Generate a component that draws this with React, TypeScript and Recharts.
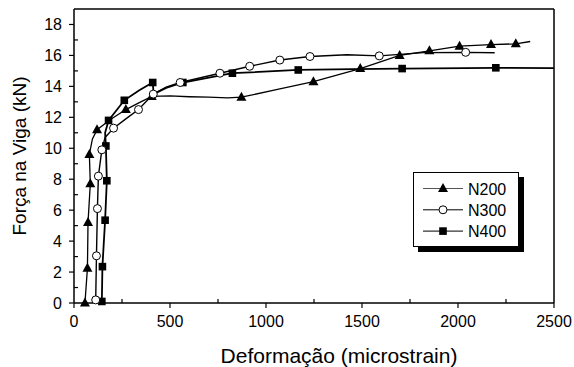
import React from 'react';
import { ComposedChart, Line, Scatter, XAxis, YAxis } from 'recharts';

const FONT = '"Liberation Sans", Arial, Helvetica, sans-serif';

// axis ticks (minor + major)
const xTicks = [0, 250, 500, 750, 1000, 1250, 1500, 1750, 2000, 2250, 2500];
const xMajor = [0, 500, 1000, 1500, 2000, 2500];
const yTicks = [0, 1, 2, 3, 4, 5, 6, 7, 8, 9, 10, 11, 12, 13, 14, 15, 16, 17, 18];
const yMajor = [0, 2, 4, 6, 8, 10, 12, 14, 16, 18];

const seriesNames = ['N200', 'N300', 'N400'];

// N200 – curve path and marker points (x = microstrain, y = kN)
const n200Path: [number, number][] = [
  [57, 0], [70, 2.25], [73, 5.2], [85, 7.7], [80, 9.6], [96, 10.6], [120, 11.2],
  [192, 11.87], [270, 12.5], [340, 12.95], [405, 13.35], [500, 13.38], [600, 13.33],
  [700, 13.3], [800, 13.25], [872, 13.3], [1060, 13.8], [1247, 14.3], [1491, 15.15],
  [1696, 16.0], [1851, 16.3], [2008, 16.6], [2172, 16.7], [2301, 16.75], [2376, 16.9],
];
const n200Marks: [number, number][] = [
  [57, 0], [70, 2.25], [73, 5.2], [85, 7.7], [80, 9.6], [120, 11.2], [270, 12.5],
  [405, 13.35], [872, 13.3], [1247, 14.3], [1491, 15.15], [1696, 16.0], [1851, 16.3],
  [2008, 16.6], [2172, 16.7], [2301, 16.75],
];

// N300
const n300Path: [number, number][] = [
  [113, 0.2], [117, 3.05], [122, 6.1], [127, 8.2], [145, 9.9], [162, 10.7], [206, 11.3],
  [270, 11.9], [336, 12.5], [413, 13.5], [480, 13.95], [553, 14.25], [760, 14.85],
  [915, 15.3], [1072, 15.7], [1229, 15.93], [1421, 16.04], [1590, 15.97], [1820, 16.18],
  [2040, 16.2], [2191, 16.17],
];
const n300Marks: [number, number][] = [
  [113, 0.2], [117, 3.05], [122, 6.1], [127, 8.2], [145, 9.9], [206, 11.3], [336, 12.5],
  [413, 13.5], [553, 14.25], [760, 14.85], [915, 15.3], [1072, 15.7], [1229, 15.93],
  [1590, 15.97], [2040, 16.2],
];

// N400
const n400Path: [number, number][] = [
  [145, 0.1], [148, 2.35], [162, 5.35], [171, 7.9], [166, 10.15], [162, 11.0], [180, 11.8],
  [262, 13.1], [340, 13.75], [410, 14.25], [415, 13.5], [480, 13.9], [567, 14.25],
  [825, 14.85], [1168, 15.06], [1450, 15.12], [1709, 15.15], [2197, 15.2], [2500, 15.18],
];
const n400Marks: [number, number][] = [
  [145, 0.1], [148, 2.35], [162, 5.35], [171, 7.9], [166, 10.15], [180, 11.8], [262, 13.1],
  [410, 14.25], [567, 14.25], [825, 14.85], [1168, 15.06], [1709, 15.15], [2197, 15.2],
];

const toPts = (arr: [number, number][]) => arr.map(([x, y]) => ({ x, y }));

const Triangle = (p: any) => {
  const { cx, cy } = p;
  if (cx == null || cy == null) return null;
  return <polygon points={`${cx},${cy - 5.5} ${cx - 5},${cy + 3.5} ${cx + 5},${cy + 3.5}`} fill="#000" />;
};
const Circle = (p: any) => {
  const { cx, cy } = p;
  if (cx == null || cy == null) return null;
  return <circle cx={cx} cy={cy} r={4} fill="#fff" stroke="#000" strokeWidth={1} />;
};
const Square = (p: any) => {
  const { cx, cy } = p;
  if (cx == null || cy == null) return null;
  return <rect x={cx - 3.8} y={cy - 3.8} width={7.6} height={7.6} fill="#000" />;
};

const BottomTick = (p: any) => {
  const { x, y, payload } = p;
  const v = payload.value;
  const major = xMajor.includes(v);
  return (
    <g>
      <line x1={x} x2={x} y1={y} y2={major ? y + 5 : y - 4} stroke="#000" strokeWidth={1.2} />
      {major && (
        <text x={x} y={y + 24} textAnchor="middle" fontSize={16} fontFamily={FONT} fill="#000">
          {v}
        </text>
      )}
    </g>
  );
};
const LeftTick = (p: any) => {
  const { x, y, payload } = p;
  const v = payload.value;
  const major = yMajor.includes(v);
  return (
    <g>
      <line x1={x} x2={major ? x - 5 : x + 4} y1={y} y2={y} stroke="#000" strokeWidth={1.2} />
      {major && (
        <text x={x - 12} y={y + 5.5} textAnchor="end" fontSize={16} fontFamily={FONT} fill="#000">
          {v}
        </text>
      )}
    </g>
  );
};
const TopTick = (p: any) => {
  const { x, y } = p;
  return <line x1={x} x2={x} y1={y} y2={y + 5} stroke="#000" strokeWidth={1.2} />;
};
const RightTick = (p: any) => {
  const { x, y } = p;
  return <line x1={x} x2={x - 5} y1={y} y2={y} stroke="#000" strokeWidth={1.2} />;
};

const XTitle = (p: any) => {
  const vb = p.viewBox || {};
  return (
    <text x={vb.x + vb.width / 2 + 25} y={vb.y + 60} textAnchor="middle" fontSize={21} fontFamily={FONT} fill="#000">
      Deformação (microstrain)
    </text>
  );
};
const YTitle = (p: any) => {
  const vb = p.viewBox || {};
  const cx = vb.x + 19;
  const cy = vb.y + vb.height / 2;
  return (
    <text x={cx} y={cy} transform={`rotate(-90, ${cx}, ${cy})`} textAnchor="middle" dominantBaseline="central" fontSize={19} fontFamily={FONT} fill="#000">
      Força na Viga (kN)
    </text>
  );
};

const LegendBox = () => {
  const rows = [Triangle, Circle, Square];
  return (
    <svg width={114} height={82} style={{ position: 'absolute', left: 413, top: 172 }}>
      <rect x={5} y={5} width={106} height={75} fill="#000" />
      <rect x={0.5} y={0.5} width={105} height={74} fill="#fff" stroke="#000" strokeWidth={1} />
      {rows.map((Shape, i) => {
        const cy = 16.5 + i * 21.3;
        return (
          <g key={i}>
            <line x1={10} x2={50} y1={cy} y2={cy} stroke={i === 0 ? '#555' : '#000'} strokeWidth={1} />
            <Shape cx={30} cy={cy} />
            <text x={55} y={cy + 6} fontSize={16} fontFamily={FONT} fill="#000">
              {seriesNames[i]}
            </text>
          </g>
        );
      })}
    </svg>
  );
};

export default function App() {
  const axisLine = { stroke: '#000', strokeWidth: 1.5 };
  return (
    <div style={{ position: 'absolute', left: 0, top: 0, width: 574, height: 367, background: '#fff' }}>
      <ComposedChart width={574} height={367} margin={{ top: 8, right: 19, bottom: 0, left: 0 }}>
        <XAxis
          xAxisId={0}
          dataKey="x"
          type="number"
          domain={[0, 2500]}
          ticks={xTicks}
          interval={0}
          height={64}
          tickSize={0}
          tickMargin={0}
          tickLine={false}
          axisLine={axisLine}
          tick={<BottomTick />}
          label={<XTitle />}
        />
        <XAxis
          xAxisId="top"
          orientation="top"
          dataKey="x"
          type="number"
          domain={[0, 2500]}
          ticks={xTicks}
          interval={0}
          height={1}
          tickSize={0}
          tickMargin={0}
          tickLine={false}
          axisLine={axisLine}
          tick={<TopTick />}
        />
        <YAxis
          yAxisId={0}
          type="number"
          domain={[0, 19]}
          ticks={yTicks}
          interval={0}
          width={74}
          tickSize={0}
          tickMargin={0}
          tickLine={false}
          axisLine={axisLine}
          tick={<LeftTick />}
          label={<YTitle />}
        />
        <YAxis
          yAxisId="right"
          orientation="right"
          type="number"
          domain={[0, 19]}
          ticks={yTicks}
          interval={0}
          width={1}
          tickSize={0}
          tickMargin={0}
          tickLine={false}
          axisLine={axisLine}
          tick={<RightTick />}
        />
        <Line data={toPts(n200Path)} dataKey="y" type="linear" stroke="#000" strokeWidth={1.3} dot={false} activeDot={false} isAnimationActive={false} />
        <Line data={toPts(n300Path)} dataKey="y" type="linear" stroke="#000" strokeWidth={1.4} dot={false} activeDot={false} isAnimationActive={false} />
        <Line data={toPts(n400Path)} dataKey="y" type="linear" stroke="#000" strokeWidth={1.8} dot={false} activeDot={false} isAnimationActive={false} />
        <Scatter data={toPts(n200Marks)} dataKey="y" shape={<Triangle />} isAnimationActive={false} />
        <Scatter data={toPts(n400Marks)} dataKey="y" shape={<Square />} isAnimationActive={false} />
        <Scatter data={toPts(n300Marks)} dataKey="y" shape={<Circle />} isAnimationActive={false} />
      </ComposedChart>
      <LegendBox />
    </div>
  );
}
